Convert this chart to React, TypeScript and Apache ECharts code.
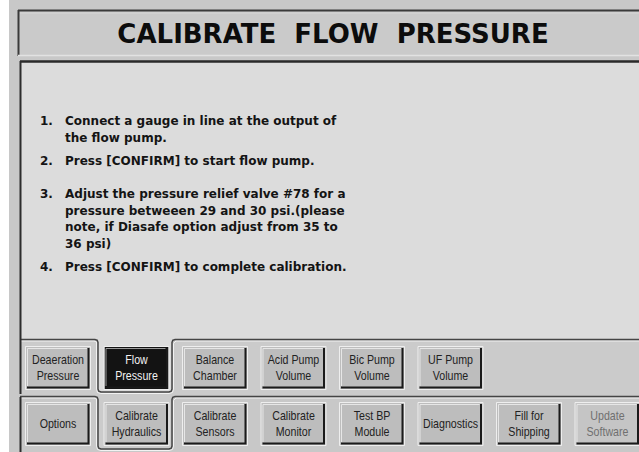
import React, { useEffect, useRef } from "react";
import * as echarts from "echarts";

const W = 639;
const H = 452;

const titleText = "CALIBRATE  FLOW  PRESSURE";
const stepNumbers = ["1.", "2.", "3.", "4."];
const stepLines = [
  ["Connect a gauge in line at the output of", "the flow pump."],
  ["Press [CONFIRM] to start flow pump."],
  [
    "Adjust the pressure relief valve #78 for a",
    "pressure betweeen 29 and 30 psi.(please",
    "note, if Diasafe option adjust from 35 to",
    "36 psi)",
  ],
  ["Press [CONFIRM] to complete calibration."],
];
const stepTops = [121, 161, 194, 267];
const subTabLabels = [
  "Deaeration\nPressure",
  "Flow\nPressure",
  "Balance\nChamber",
  "Acid Pump\nVolume",
  "Bic Pump\nVolume",
  "UF Pump\nVolume",
];
const mainTabLabels = [
  "Options",
  "Calibrate\nHydraulics",
  "Calibrate\nSensors",
  "Calibrate\nMonitor",
  "Test BP\nModule",
  "Diagnostics",
  "Fill for\nShipping",
  "Update\nSoftware",
];
const selectedSub = 1;
const selectedMain = 1;
const disabledMain = [7];

const BTN_X0 = 26;
const BTN_STEP = 78.5;
const BTN_W = 64;
const BTN_H = 42;
const ROW1_Y = 347;
const ROW2_Y = 403;

function line(x1: number, y1: number, x2: number, y2: number, stroke: string, lw: number) {
  return { type: "line", shape: { x1, y1, x2, y2 }, style: { stroke, lineWidth: lw } };
}
function poly(points: number[][], stroke: string, lw: number) {
  return { type: "polyline", shape: { points }, style: { stroke, lineWidth: lw, fill: null } };
}

function button(x: number, y: number, label: string, kind: string) {
  const w = BTN_W;
  const h = BTN_H;
  const face = kind === "selected" ? "#131313" : kind === "disabled" ? "#c5c5c5" : "#bdbdbd";
  const txt = kind === "selected" ? "#f2f2f2" : kind === "disabled" ? "#707070" : "#222222";
  return [
    { type: "rect", shape: { x, y, width: w, height: h }, style: { fill: face } },
    { type: "rect", shape: { x: x - 0.5, y: y - 0.5, width: w + 1, height: h + 1 }, style: { fill: null, stroke: "#eeeeee", lineWidth: 1 } },
    poly([[x + w - 1.5, y + 1], [x + w - 1.5, y + h - 1.5], [x + 1, y + h - 1.5]], "#1a1a1a", 2),
    poly([[x + 1.5, y + h - 3], [x + 1.5, y + 1.5], [x + w - 3, y + 1.5]], kind === "selected" ? "#9a9a9a" : "#e6e6e6", 1),
    {
      type: "text",
      x: x + w / 2,
      y: y + h / 2 - 0.5,
      scaleX: 0.82,
      style: {
        text: label,
        x: 0,
        y: 0,
        align: "center",
        verticalAlign: "middle",
        fontFamily: "Liberation Sans, Arial, sans-serif",
        fontSize: 13,
        lineHeight: 16,
        fill: txt,
      },
    },
  ];
}

function tabOutline(y: number, x1: number, x2: number, depth: number) {
  const r = 3;
  const pts = [
    [20, y],
    [x1 - r, y],
    [x1 - 0.8, y + 0.8],
    [x1, y + r],
    [x1, y + depth - r],
    [x1 + 0.8, y + depth - 0.8],
    [x1 + r, y + depth],
    [x2 - r, y + depth],
    [x2 - 0.8, y + depth - 0.8],
    [x2, y + depth - r],
    [x2, y + r],
    [x2 + 0.8, y + 0.8],
    [x2 + r, y],
    [W, y],
  ];
  const light = [
    [21, y + 1.5],
    [x1 - r - 1, y + 1.5],
    [x1 - 1.5, y + 2.5],
    [x1 - 1.5, y + depth - r],
    [x1 - 0.5, y + depth + 0.5],
    [x1 + r, y + depth + 1.5],
    [x2 - r, y + depth + 1.5],
    [x2 + 0.5, y + depth + 0.5],
    [x2 + 1.5, y + depth - r],
    [x2 + 1.5, y + r + 1],
    [x2 + r + 1, y + 1.5],
    [W, y + 1.5],
  ];
  return [poly(light, "#f2f2f2", 1), poly(pts, "#454545", 1.5)];
}

export default function App() {
  const ref = useRef<HTMLDivElement>(null);
  useEffect(() => {
    if (!ref.current) return;
    const chart = echarts.init(ref.current, null, { renderer: "svg" });
    const els: any[] = [];

    els.push({ type: "rect", shape: { x: 0, y: 0, width: 9, height: H }, style: { fill: "#ffffff" } });

    els.push({ type: "rect", shape: { x: 18, y: 10, width: W - 18, height: 46 }, style: { fill: "#cacaca" } });
    els.push(line(18, 10.5, W, 10.5, "#3a3a3a", 2));
    els.push(line(18.5, 10, 18.5, 56, "#3a3a3a", 2));
    els.push(line(20, 13, W, 13, "#d6d6d6", 1));
    els.push(line(18, 55.5, W, 55.5, "#e2e2e2", 1.5));
    els.push({
      type: "text",
      x: 333,
      y: 34,
      style: {
        text: titleText,
        align: "center",
        verticalAlign: "middle",
        fontFamily: "DejaVu Sans",
        fontWeight: "bold",
        fontSize: 26,
        fill: "#0c0c0c",
      },
    });

    const tabL = BTN_X0 + BTN_STEP * selectedSub - 6.5;
    const tabR = BTN_X0 + BTN_STEP * selectedSub + BTN_W + 3.5;
    const tabL2 = BTN_X0 + BTN_STEP * selectedMain - 6.5;
    const tabR2 = BTN_X0 + BTN_STEP * selectedMain + BTN_W + 3.5;

    els.push({ type: "rect", shape: { x: 20, y: 339, width: W - 20, height: 57 }, style: { fill: "#cbcbcb" } });
    els.push({ type: "rect", shape: { x: tabL2, y: 396, width: tabR2 - tabL2, height: 53 }, style: { fill: "#cbcbcb" } });

    els.push({
      type: "polygon",
      shape: {
        points: [
          [20, 61],
          [W, 61],
          [W, 339],
          [tabR, 339],
          [tabR, 389],
          [tabR - 3, 392],
          [tabL + 3, 392],
          [tabL, 389],
          [tabL, 339],
          [20, 339],
        ],
      },
      style: { fill: "#dcdcdc" },
    });
    els.push(line(20, 61.5, W, 61.5, "#2a2a2a", 2.5));

    els.push(...tabOutline(339.5, tabL, tabR, 52.5));
    els.push(...tabOutline(396.5, tabL2, tabR2, 52.5));

    els.push(line(20.5, 61, 20.5, 394, "#2c2c2c", 2));
    els.push(line(20.5, 397, 20.5, H, "#2c2c2c", 2));

    const font = { fontFamily: "DejaVu Sans", fontWeight: "bold", fontSize: 12, fill: "#141414" };
    stepNumbers.forEach((n, i) => {
      els.push({ type: "text", x: 40, y: stepTops[i], style: { ...font, text: n, align: "left", verticalAlign: "middle" } });
      stepLines[i].forEach((t, j) => {
        els.push({
          type: "text",
          x: 65,
          y: stepTops[i] + j * 16.7,
          style: { ...font, text: t, align: "left", verticalAlign: "middle" },
        });
      });
    });

    subTabLabels.forEach((lab, i) => {
      els.push(...button(BTN_X0 + BTN_STEP * i, ROW1_Y, lab, i === selectedSub ? "selected" : "normal"));
    });
    mainTabLabels.forEach((lab, i) => {
      els.push(...button(BTN_X0 + BTN_STEP * i, ROW2_Y, lab, disabledMain.includes(i) ? "disabled" : "normal"));
    });

    chart.setOption({
      animation: false,
      backgroundColor: "#c8c8c8",
      graphic: { elements: els },
    });
    return () => chart.dispose();
  }, []);
  return (
    <div
      ref={ref}
      style={{ position: "fixed", left: 0, top: 0, width: W, height: H }}
    />
  );
}
